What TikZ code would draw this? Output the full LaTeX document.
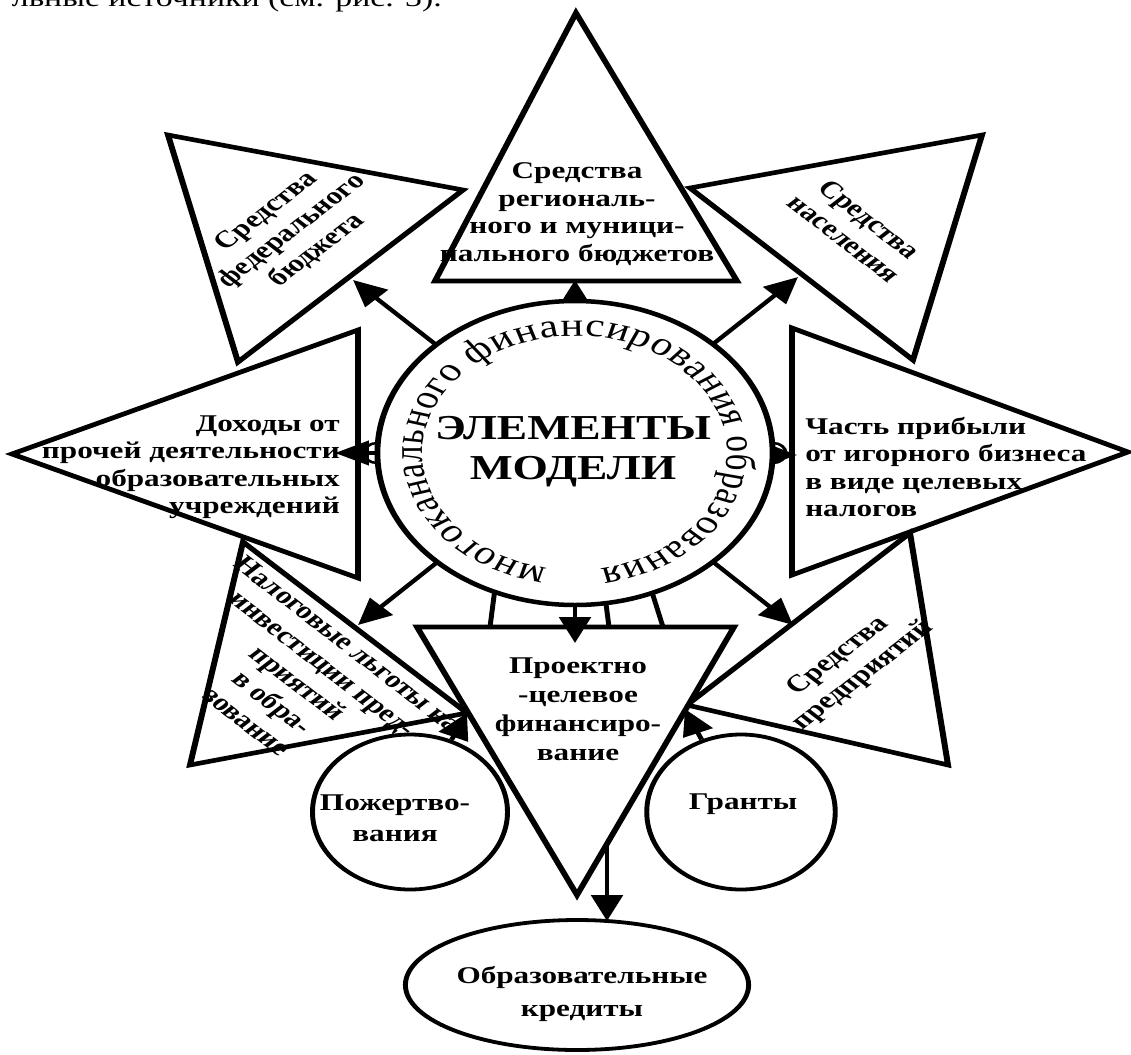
\documentclass[tikz,border=0pt]{standalone}
\usepackage{fontspec}
\setmainfont{Liberation Serif}
\usetikzlibrary{arrows.meta,decorations.text,shapes.geometric}
\begin{document}
\begin{tikzpicture}
\useasboundingbox[fill=white] (0pt,0pt) rectangle (1131pt,-1054pt);
\begin{scope}[transform canvas={xscale=1.3}, x=0.769231pt, y=-1pt,
  tri/.style={draw, line width=4.6pt, fill=white, line join=miter},
  arr/.style={line width=3.8pt, -{Triangle[length=26pt,width=24pt]}},
  plain/.style={line width=3.8pt},
  lbl/.style={font=\bfseries\fontsize{24}{27.5}\selectfont, inner sep=0pt, align=center},
  ring/.style={ellipse, draw, line width=3.8pt, fill=white, inner sep=0pt}]

% top caption line (cropped)
\node[font=\fontsize{26}{30}\selectfont, anchor=base east, inner sep=0pt] (cap) at (442,7) {льные источники (см. рис. 3).};

% triangles
\draw[tri] (576,13) -- (435,281) -- (737,281) -- cycle;
\draw[tri] (168,135) -- (463,190) -- (238,362) -- cycle;
\draw[tri] (690,188) -- (982,135) -- (913,360) -- cycle;
\draw[tri] (12,454) -- (358,330) -- (358,578) -- cycle;
\draw[tri] (792,328) -- (1128,452) -- (792,575) -- cycle;
\draw[tri] (243,542) -- (467,713) -- (190,765) -- cycle;
\draw[tri] (910,533) -- (948,765) -- (687,705) -- cycle;
\draw[tri] (417,627) -- (734,627) -- (577,895) -- cycle;

% circles
\node[ring, minimum width=150pt, minimum height=155pt] (P) at (410,812) {};
\node[ring, minimum width=145pt, minimum height=155pt] (G) at (741,812) {};
\node[ring, minimum width=264pt, minimum height=130pt] (K) at (577,985) {};

% central circle (anchor holder)
\node[circle, minimum size=304pt, inner sep=0pt] (E) at (575,453) {};

% arrow tips
\coordinate (tUL) at (353,280);
\coordinate (tU)  at (575,280);
\coordinate (tUR) at (798,277);
\coordinate (tL)  at (335,453);
\coordinate (tR)  at (797,455);
\coordinate (tLL) at (358,625);
\coordinate (tD)  at (575,643);
\coordinate (tLR) at (793,625);
\coordinate (b1) at (490,627);
\coordinate (b2) at (609,627);
\coordinate (b3) at (663,627);
\coordinate (tP) at (467,713);
\coordinate (tG) at (685,709);
\coordinate (kS) at (607,843);
\coordinate (kE) at (607,921);

\draw[line width=2.5pt, fill=white] (E.west) circle[radius=10pt];
\draw[line width=2.5pt, fill=white] (E.east) circle[radius=10pt];

\foreach \t in {tUL,tU,tUR,tL,tR,tLL,tD,tLR} \draw[arr] (E) -- (\t);
\draw[plain] (E.246.8) -- (b1);
\draw[plain] (E.279.9) -- (b2);
\draw[plain] (E.293.6) -- (b3);
\draw[arr] (P) -- (tP);
\draw[arr] (G) -- (tG);
\draw[arr] (kS) -- (kE);

% central circle drawn on top
\draw[line width=4.5pt, fill=white] (E.center) circle[radius=152pt];
\path[decorate, decoration={text along path, text align={fit to path},
  text={|\fontsize{33}{33}\selectfont|многоканального финансирования образования}}]
  ([shift={(259.6:117pt)}]E.center) arc[start angle=259.6, end angle=-80.4, radius=117pt];
\node[font=\bfseries\fontsize{35}{40}\selectfont, align=center, inner sep=0pt] (nE) at (573,452) {ЭЛЕМЕНТЫ\\МОДЕЛИ};

% labels
\node[lbl] (nTop) at (577,214) {Средства\\региональ-\\ного и муници-\\пального бюджетов};
\node[lbl, align=right, anchor=east] (nL) at (340,467) {Доходы от\\прочей деятельности\\образовательных\\учреждений};
\node[lbl, align=left, anchor=west] (nR) at (805,467) {Часть прибыли\\от игорного бизнеса\\в виде целевых\\налогов};
\node[lbl, font=\bfseries\fontsize{24}{29}\selectfont] (nB) at (578,709) {Проектно\\-целевое\\финансиро-\\вание};
\node[lbl, rotate=45] (nUL) at (292,231) {Средства\\федерального\\бюджета};
\node[lbl, rotate=-45] (nUR) at (857,229) {Средства\\населения};
\node[lbl, rotate=-45] (nLL) at (298,683) {Налоговые льготы на\\инвестиции пред-\\приятий\\в обра-\\зование};
\node[lbl, rotate=45] (nLR) at (851,666) {Средства\\предприятий};
\node[lbl, font=\bfseries\fontsize{24}{31}\selectfont] (nP) at (395,818) {Пожертво-\\вания};
\node[lbl] (nG) at (743,804) {Гранты};
\node[lbl, font=\bfseries\fontsize{24}{33}\selectfont] (nK) at (582,994) {Образовательные\\кредиты};
\end{scope}
\end{tikzpicture}
\end{document}
